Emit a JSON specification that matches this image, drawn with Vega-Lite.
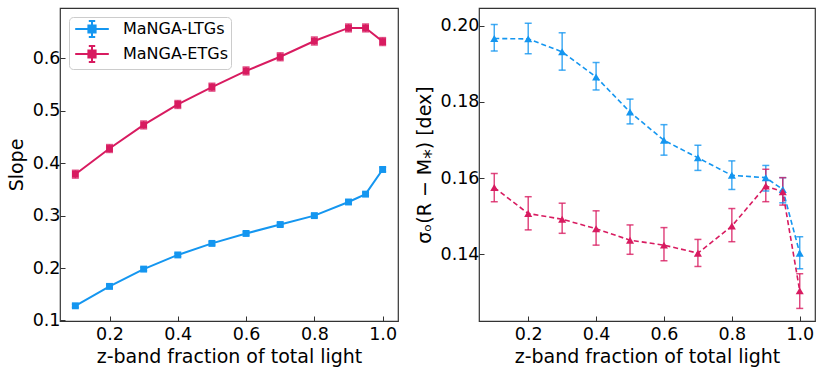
{
  "$schema": "https://vega.github.io/schema/vega-lite/v6.json",
  "padding": {"left": 6, "top": 7, "right": 5, "bottom": 0},
  "spacing": 15,
  "config": {
    "font": "DejaVu Sans",
    "view": {"stroke": "#333", "strokeWidth": 1.2},
    "axis": {
      "grid": false,
      "domain": false,
      "tickSize": -5,
      "tickColor": "#333",
      "tickWidth": 1,
      "labelFontSize": 17.5,
      "labelColor": "#000",
      "titleFontSize": 19,
      "titleFontWeight": "normal",
      "titleColor": "#000"
    },
    "axisX": {"labelPadding": 9, "titlePadding": 5},
    "axisY": {"labelPadding": 5, "titlePadding": 6}
  },
  "datasets": {
    "slope": [
      {"sample": "MaNGA-LTGs", "frac": 0.1, "val": 0.128, "lo": 0.125, "hi": 0.131},
      {"sample": "MaNGA-LTGs", "frac": 0.2, "val": 0.165, "lo": 0.162, "hi": 0.168},
      {"sample": "MaNGA-LTGs", "frac": 0.3, "val": 0.198, "lo": 0.195, "hi": 0.201},
      {"sample": "MaNGA-LTGs", "frac": 0.4, "val": 0.225, "lo": 0.222, "hi": 0.228},
      {"sample": "MaNGA-LTGs", "frac": 0.5, "val": 0.247, "lo": 0.244, "hi": 0.250},
      {"sample": "MaNGA-LTGs", "frac": 0.6, "val": 0.266, "lo": 0.263, "hi": 0.269},
      {"sample": "MaNGA-LTGs", "frac": 0.7, "val": 0.283, "lo": 0.280, "hi": 0.286},
      {"sample": "MaNGA-LTGs", "frac": 0.8, "val": 0.300, "lo": 0.297, "hi": 0.303},
      {"sample": "MaNGA-LTGs", "frac": 0.9, "val": 0.326, "lo": 0.323, "hi": 0.329},
      {"sample": "MaNGA-LTGs", "frac": 0.95, "val": 0.341, "lo": 0.338, "hi": 0.344},
      {"sample": "MaNGA-LTGs", "frac": 1.0, "val": 0.388, "lo": 0.384, "hi": 0.392},
      {"sample": "MaNGA-ETGs", "frac": 0.1, "val": 0.379, "lo": 0.3715, "hi": 0.3865},
      {"sample": "MaNGA-ETGs", "frac": 0.2, "val": 0.428, "lo": 0.4205, "hi": 0.4355},
      {"sample": "MaNGA-ETGs", "frac": 0.3, "val": 0.473, "lo": 0.4655, "hi": 0.4805},
      {"sample": "MaNGA-ETGs", "frac": 0.4, "val": 0.512, "lo": 0.5045, "hi": 0.5195},
      {"sample": "MaNGA-ETGs", "frac": 0.5, "val": 0.545, "lo": 0.5375, "hi": 0.5525},
      {"sample": "MaNGA-ETGs", "frac": 0.6, "val": 0.576, "lo": 0.5685, "hi": 0.5835},
      {"sample": "MaNGA-ETGs", "frac": 0.7, "val": 0.603, "lo": 0.5955, "hi": 0.6105},
      {"sample": "MaNGA-ETGs", "frac": 0.8, "val": 0.633, "lo": 0.6255, "hi": 0.6405},
      {"sample": "MaNGA-ETGs", "frac": 0.9, "val": 0.658, "lo": 0.6505, "hi": 0.6655},
      {"sample": "MaNGA-ETGs", "frac": 0.95, "val": 0.658, "lo": 0.6505, "hi": 0.6655},
      {"sample": "MaNGA-ETGs", "frac": 1.0, "val": 0.632, "lo": 0.6245, "hi": 0.6395}
    ],
    "sigma": [
      {"sample": "MaNGA-LTGs", "frac": 0.1, "val": 0.1966, "lo": 0.1933, "hi": 0.2003},
      {"sample": "MaNGA-LTGs", "frac": 0.2, "val": 0.1965, "lo": 0.1926, "hi": 0.2006},
      {"sample": "MaNGA-LTGs", "frac": 0.3, "val": 0.1931, "lo": 0.1883, "hi": 0.1981},
      {"sample": "MaNGA-LTGs", "frac": 0.4, "val": 0.1865, "lo": 0.1831, "hi": 0.1903},
      {"sample": "MaNGA-LTGs", "frac": 0.5, "val": 0.1773, "lo": 0.1742, "hi": 0.1807},
      {"sample": "MaNGA-LTGs", "frac": 0.6, "val": 0.1699, "lo": 0.1660, "hi": 0.1740},
      {"sample": "MaNGA-LTGs", "frac": 0.7, "val": 0.1653, "lo": 0.1620, "hi": 0.1686},
      {"sample": "MaNGA-LTGs", "frac": 0.8, "val": 0.1607, "lo": 0.1570, "hi": 0.1645},
      {"sample": "MaNGA-LTGs", "frac": 0.9, "val": 0.1601, "lo": 0.1566, "hi": 0.1633},
      {"sample": "MaNGA-LTGs", "frac": 0.95, "val": 0.1570, "lo": 0.1535, "hi": 0.1601},
      {"sample": "MaNGA-LTGs", "frac": 1.0, "val": 0.1403, "lo": 0.1362, "hi": 0.1446},
      {"sample": "MaNGA-ETGs", "frac": 0.1, "val": 0.1575, "lo": 0.1538, "hi": 0.1612},
      {"sample": "MaNGA-ETGs", "frac": 0.2, "val": 0.1507, "lo": 0.1464, "hi": 0.1551},
      {"sample": "MaNGA-ETGs", "frac": 0.3, "val": 0.1492, "lo": 0.1455, "hi": 0.1534},
      {"sample": "MaNGA-ETGs", "frac": 0.4, "val": 0.1467, "lo": 0.1424, "hi": 0.1514},
      {"sample": "MaNGA-ETGs", "frac": 0.5, "val": 0.1437, "lo": 0.1400, "hi": 0.1477},
      {"sample": "MaNGA-ETGs", "frac": 0.6, "val": 0.1424, "lo": 0.1383, "hi": 0.1470},
      {"sample": "MaNGA-ETGs", "frac": 0.7, "val": 0.1403, "lo": 0.1368, "hi": 0.1439},
      {"sample": "MaNGA-ETGs", "frac": 0.8, "val": 0.1474, "lo": 0.1433, "hi": 0.1520},
      {"sample": "MaNGA-ETGs", "frac": 0.9, "val": 0.1579, "lo": 0.1538, "hi": 0.1623},
      {"sample": "MaNGA-ETGs", "frac": 0.95, "val": 0.1564, "lo": 0.1529, "hi": 0.1601},
      {"sample": "MaNGA-ETGs", "frac": 1.0, "val": 0.1304, "lo": 0.1258, "hi": 0.1349}
    ]
  },
  "resolve": {"scale": {"color": "independent"}, "legend": {"color": "independent"}},
  "hconcat": [
    {
      "width": 338,
      "height": 313,
      "data": {"name": "slope"},
      "encoding": {
        "x": {"field": "frac", "type": "quantitative", "scale": {"domain": [0.055, 1.045], "nice": false, "zero": false},
              "axis": {"values": [0.2, 0.4, 0.6, 0.8, 1.0], "format": ".1f", "title": "z-band fraction of total light"}},
        "color": {"field": "sample", "type": "nominal",
                  "scale": {"domain": ["MaNGA-LTGs", "MaNGA-ETGs"], "range": ["#1496F0", "#D81B60"]},
                  "legend": {
                    "title": null, "orient": "none", "legendX": 9, "legendY": 9,
                    "labelFontSize": 16, "labelColor": "#000",
                    "strokeColor": "#ccc", "fillColor": "white", "cornerRadius": 4, "padding": 3,
                    "rowPadding": 1, "symbolOffset": 11, "labelOffset": 22,
                    "symbolType": "M-2.1,0H2.1M0,-1V1M-0.4,-1H0.4M-0.4,1H0.4M-0.45,-0.45H0.45V0.45H-0.45Z",
                    "symbolSize": 256, "symbolStrokeWidth": 2,
                    "encode": {"symbols": {"update": {
                      "fill": {"scale": "color", "field": "value"},
                      "stroke": {"scale": "color", "field": "value"},
                      "opacity": {"value": 1}
                    }}}
                  }}
      },
      "layer": [
        {"mark": {"type": "rule", "strokeWidth": 1.5, "opacity": 0.75},
         "encoding": {"y": {"field": "lo", "type": "quantitative", "scale": {"domain": [0.099, 0.696], "nice": false, "zero": false},
                            "axis": {"values": [0.1, 0.2, 0.3, 0.4, 0.5, 0.6], "format": ".1f", "title": "Slope"}},
                      "y2": {"field": "hi"}}},
        {"mark": {"type": "tick", "orient": "horizontal", "size": 7, "thickness": 1.5, "opacity": 0.75},
         "encoding": {"y": {"field": "lo", "type": "quantitative"}}},
        {"mark": {"type": "tick", "orient": "horizontal", "size": 7, "thickness": 1.5, "opacity": 0.75},
         "encoding": {"y": {"field": "hi", "type": "quantitative"}}},
        {"mark": {"type": "line", "strokeWidth": 2},
         "encoding": {"y": {"field": "val", "type": "quantitative"}}},
        {"mark": {"type": "point", "shape": "square", "filled": true, "size": 48, "opacity": 1},
         "encoding": {"y": {"field": "val", "type": "quantitative"}}}
      ]
    },
    {
      "width": 336,
      "height": 313,
      "data": {"name": "sigma"},
      "encoding": {
        "x": {"field": "frac", "type": "quantitative", "scale": {"domain": [0.055, 1.045], "nice": false, "zero": false},
              "axis": {"values": [0.2, 0.4, 0.6, 0.8, 1.0], "format": ".1f", "title": "z-band fraction of total light"}},
        "color": {"field": "sample", "type": "nominal",
                  "scale": {"domain": ["MaNGA-LTGs", "MaNGA-ETGs"], "range": ["#1496F0", "#D81B60"]},
                  "legend": null}
      },
      "layer": [
        {"mark": {"type": "rule", "strokeWidth": 1.5, "opacity": 0.8},
         "encoding": {"y": {"field": "lo", "type": "quantitative", "scale": {"domain": [0.1225, 0.2046], "nice": false, "zero": false},
                            "axis": {"values": [0.14, 0.16, 0.18, 0.20], "format": ".2f", "title": "σₒ(R − M⁎) [dex]"}},
                      "y2": {"field": "hi"}}},
        {"mark": {"type": "tick", "orient": "horizontal", "size": 7, "thickness": 1.5, "opacity": 0.8},
         "encoding": {"y": {"field": "lo", "type": "quantitative"}}},
        {"mark": {"type": "tick", "orient": "horizontal", "size": 7, "thickness": 1.5, "opacity": 0.8},
         "encoding": {"y": {"field": "hi", "type": "quantitative"}}},
        {"mark": {"type": "line", "strokeWidth": 1.6, "strokeDash": [5, 3]},
         "encoding": {"y": {"field": "val", "type": "quantitative"}}},
        {"mark": {"type": "point", "shape": "triangle-up", "filled": true, "size": 65, "opacity": 1},
         "encoding": {"y": {"field": "val", "type": "quantitative"}}}
      ]
    }
  ]
}
